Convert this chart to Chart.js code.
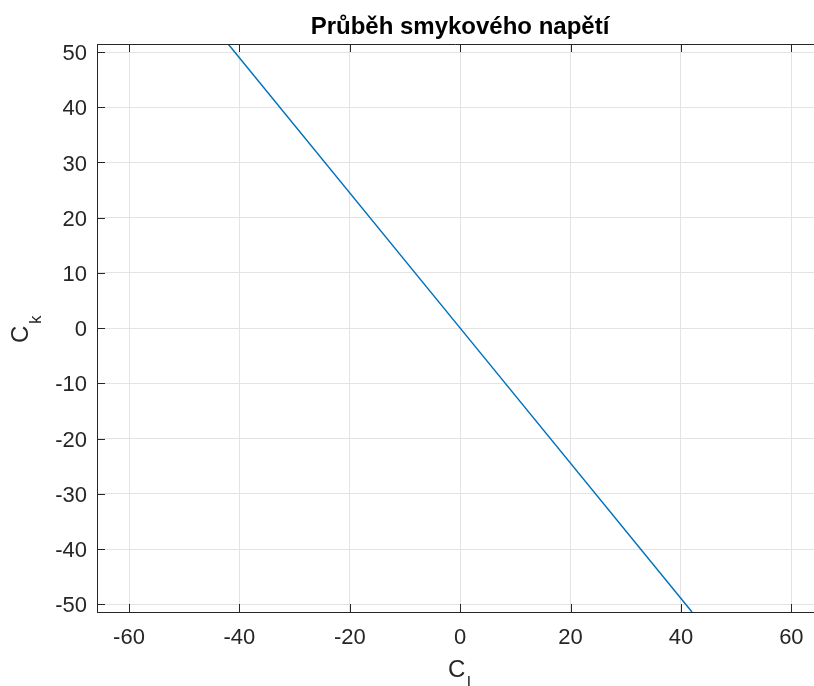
<!DOCTYPE html>
<html>
<head>
<meta charset="utf-8">
<script src="https://cdn.jsdelivr.net/npm/chart.js@4"></script>
<style>
  html, body { margin: 0; padding: 0; background: #fff; }
  canvas { display: block; }
</style>
</head>
<body>
<canvas id="graf" width="814" height="686"></canvas>
<script>
// průběh C_k v závislosti na C_l
const cl = [-42, 0, 42];
const ck = [51.4, 0, -51.4];
const xTicks = [-60, -40, -20, 0, 20, 40, 60];
const yTicks = [-50, -40, -30, -20, -10, 0, 10, 20, 30, 40, 50];

const FONT = "'Liberation Sans', Arial, Helvetica, sans-serif";
const INK = '#262626';

// rámeček, ticky dovnitř a popisky os (styl MATLAB)
const ramecek = {
  id: 'ramecek',
  afterDraw(chart) {
    const { ctx, chartArea: a, scales } = chart;
    ctx.save();
    ctx.strokeStyle = INK;
    ctx.lineWidth = 1;
    ctx.beginPath();
    ctx.moveTo(a.left, a.top + 0.5);
    ctx.lineTo(a.right, a.top + 0.5);
    const tl = 8;
    xTicks.forEach(v => {
      const x = Math.round(scales.x.getPixelForValue(v)) + 0.5;
      ctx.moveTo(x, a.bottom); ctx.lineTo(x, a.bottom - tl);
      ctx.moveTo(x, a.top); ctx.lineTo(x, a.top + tl);
    });
    yTicks.forEach(v => {
      const y = Math.round(scales.y.getPixelForValue(v)) + 0.5;
      ctx.moveTo(a.left, y); ctx.lineTo(a.left + tl, y);
    });
    ctx.stroke();

    // titulek
    ctx.fillStyle = '#000';
    ctx.font = 'bold 24px ' + FONT;
    ctx.textAlign = 'center';
    ctx.textBaseline = 'alphabetic';
    ctx.fillText('Průběh smykového napětí', 460, 34);

    // popisek osy x: C_l
    ctx.fillStyle = INK;
    ctx.textAlign = 'left';
    ctx.font = '24px ' + FONT;
    ctx.fillText('C', 448, 677);
    ctx.font = '17px ' + FONT;
    ctx.fillText('l', 467, 688);

    // popisek osy y: C_k
    ctx.translate(28, 343);
    ctx.rotate(-Math.PI / 2);
    ctx.font = '24px ' + FONT;
    ctx.fillText('C', 0, 0);
    ctx.font = '17px ' + FONT;
    ctx.fillText('k', 19, 13);
    ctx.restore();
  }
};

new Chart(document.getElementById('graf'), {
  type: 'scatter',
  data: {
    datasets: [{
      data: cl.map((x, i) => ({ x: x, y: ck[i] })),
      showLine: true,
      borderColor: '#0072BD',
      borderWidth: 1.5,
      pointRadius: 0,
      fill: false
    }]
  },
  options: {
    responsive: false,
    devicePixelRatio: 1,
    animation: false,
    layout: { padding: { top: 44, right: 0, left: 0, bottom: 0 } },
    plugins: {
      legend: { display: false },
      title: { display: false },
      tooltip: { enabled: false }
    },
    scales: {
      x: {
        type: 'linear',
        min: -65.8,
        max: 64.1,
        afterBuildTicks: s => { s.ticks = xTicks.map(v => ({ value: v })); },
        afterFit: s => { s.height = 74; s.paddingLeft = 0; s.paddingRight = 0; },
        ticks: {
          color: INK,
          font: { family: FONT, size: 22 },
          padding: 13,
          maxRotation: 0
        },
        grid: { color: '#e3e3e3', drawTicks: false },
        border: { display: true, color: INK, width: 1 }
      },
      y: {
        type: 'linear',
        min: -51.4,
        max: 51.45,
        afterBuildTicks: s => { s.ticks = yTicks.map(v => ({ value: v })); },
        afterFit: s => { s.width = 97; s.paddingTop = 0; s.paddingBottom = 0; },
        ticks: {
          color: INK,
          font: { family: FONT, size: 22 },
          padding: 10,
          labelOffset: 2
        },
        grid: { color: '#e3e3e3', drawTicks: false },
        border: { display: true, color: INK, width: 1 }
      }
    }
  },
  plugins: [ramecek]
});
</script>
</body>
</html>
